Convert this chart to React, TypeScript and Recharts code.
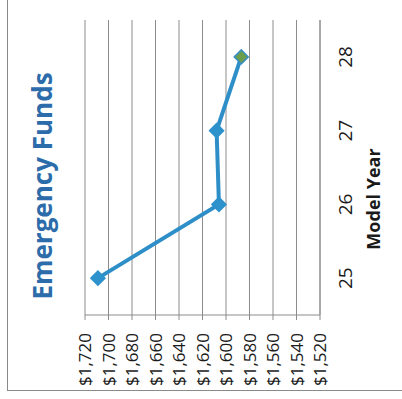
import React from "react";
import { LineChart, Line, XAxis, YAxis, CartesianGrid } from "recharts";

const years = ["25", "26", "27", "28"];
const funds = [1709, 1606, 1608, 1587];
const fundTicks = [1520, 1540, 1560, 1580, 1600, 1620, 1640, 1660, 1680, 1700, 1720];

const data = years.map((year, i) => ({ year, value: funds[i] }));

const money = (v: number) =>
  "$" + Math.floor(v / 1000) + "," + String(v % 1000).padStart(3, "0");

const font = "'Open Sans', sans-serif";

// diamond markers, the last one green like the source
const Diamond = (props: any) => {
  const { cx, cy, index } = props;
  if (cx == null || cy == null) return null;
  const r = 7;
  const last = index === years.length - 1;
  return (
    <polygon
      key={`d-${index}`}
      points={`${cx},${cy - r} ${cx + r},${cy} ${cx},${cy + r} ${cx - r},${cy}`}
      fill={last ? "#6A9D4C" : "#2E92CC"}
      stroke={last ? "#3A8FC0" : "#2E92CC"}
      strokeWidth={1.5}
    />
  );
};

export default function App() {
  return (
    <div
      style={{
        position: "absolute",
        left: 0,
        top: 0,
        width: 402,
        height: 399,
        overflow: "hidden",
        background: "#fff",
      }}
    >
      {/* outer chart box, only left and bottom edges are in frame */}
      <div
        style={{
          position: "absolute",
          left: 7,
          top: 0,
          width: 400,
          height: 390,
          borderLeft: "1.5px solid #8a8a8a",
          borderBottom: "1.5px solid #8a8a8a",
        }}
      />
      {/* the whole chart is turned a quarter turn, like the scan */}
      <div
        style={{
          position: "absolute",
          left: 0,
          top: 0,
          width: 399,
          height: 402,
          transformOrigin: "0 0",
          transform: "translateY(399px) rotate(-90deg)",
          fontFamily: font,
        }}
      >
        <div
          style={{
            position: "absolute",
            left: 63,
            top: 29,
            width: 300,
            textAlign: "center",
            fontSize: 26,
            lineHeight: "26px",
            fontWeight: 700,
            color: "#2D6CAA",
            whiteSpace: "nowrap",
          }}
        >
          Emergency Funds
        </div>
        <LineChart
          width={399}
          height={402}
          data={data}
          margin={{ top: 85, right: 20, bottom: 32, left: 14 }}
          style={{ fontFamily: font }}
        >
          <CartesianGrid vertical={false} stroke="#8c8c8c" strokeWidth={1} />
          <XAxis
            dataKey="year"
            scale="band"
            height={50}
            axisLine={{ stroke: "#8c8c8c" }}
            tickLine={false}
            tickSize={0}
            tickMargin={19}
            tick={{ fontSize: 19, fill: "#1a1a1a" }}
          />
          <YAxis
            width={70}
            domain={[1520, 1720]}
            ticks={fundTicks}
            interval={0}
            tickFormatter={money}
            axisLine={{ stroke: "#8c8c8c" }}
            tickLine={{ stroke: "#8c8c8c" }}
            tickSize={5}
            tickMargin={13}
            tick={{ fontSize: 17, fill: "#1a1a1a" }}
          />
          <Line
            type="linear"
            dataKey="value"
            stroke="#2E8FC8"
            strokeWidth={4}
            dot={Diamond}
            activeDot={false}
            isAnimationActive={false}
          />
        </LineChart>
        <div
          style={{
            position: "absolute",
            left: 100,
            top: 364,
            width: 200,
            textAlign: "center",
            fontSize: 18,
            lineHeight: "18px",
            fontWeight: 700,
            color: "#1a1a1a",
            whiteSpace: "nowrap",
          }}
        >
          Model Year
        </div>
      </div>
    </div>
  );
}
